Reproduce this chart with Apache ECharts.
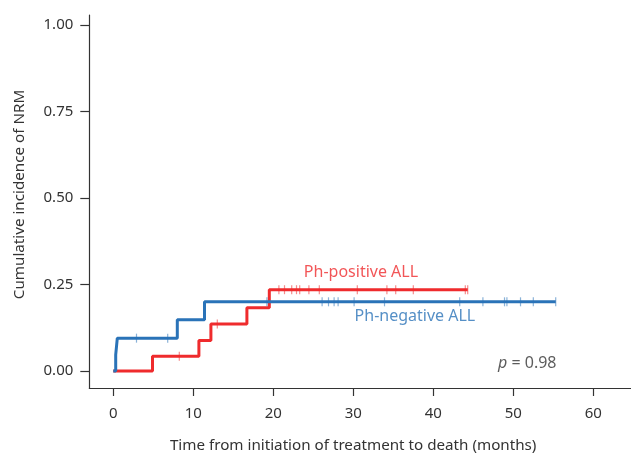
<!DOCTYPE html>
<html>
<head>
<meta charset="utf-8">
<script src="https://cdn.jsdelivr.net/npm/echarts@6/dist/echarts.min.js"></script>
<style>
  html, body { margin: 0; padding: 0; background: #fff; }
  #chart { width: 631px; height: 458px; }
</style>
</head>
<body>
<div id="chart"></div>
<script>
// Cumulative incidence of non-relapse mortality (NRM) by Ph status
const xTicks = [0, 10, 20, 30, 40, 50, 60];
const yTicks = [0, 0.25, 0.5, 0.75, 1.0];

// Step curve event points: [months, cumulative incidence]
const phNegTimes = [0, 0.3, 0.5, 8.0, 11.4, 55.3];
const phNegValues = [0, 0.047, 0.095, 0.148, 0.2, 0.2];
const phPosTimes = [0, 4.9, 10.7, 12.2, 16.7, 19.5, 44.3];
const phPosValues = [0, 0.043, 0.088, 0.136, 0.183, 0.235, 0.235];

// Censoring times
const phNegCensored = [2.9, 6.8, 19.2, 26.1, 26.9, 27.6, 28.1, 30.1, 33.9, 43.3, 46.2, 48.9, 49.2, 50.9, 52.5, 55.3];
const phPosCensored = [8.25, 13.0, 20.7, 21.4, 22.3, 22.9, 23.3, 24.45, 25.75, 30.5, 34.2, 35.3, 37.5, 44.0, 44.3];

const seriesNames = ['Ph-negative ALL', 'Ph-positive ALL'];
const pValueText = '0.98';

const BLUE = '#2a73b8';
const RED = '#ef2b2d';
const FONT = 'Noto Sans';
const TEXT = '#333333';

// value of the step curve at time t
function stepValue(times, values, t) {
  let v = values[0];
  for (let i = 0; i < times.length; i++) {
    if (times[i] <= t) v = values[i];
  }
  return v;
}

const negLine = phNegTimes.map((t, i) => [t, phNegValues[i]]);
const posLine = phPosTimes.map((t, i) => [t, phPosValues[i]]);
const negCens = phNegCensored.map(t => [t, stepValue(phNegTimes, phNegValues, t)]);
const posCens = phPosCensored.map(t => [t, stepValue(phPosTimes, phPosValues, t)]);

const chart = echarts.init(document.getElementById('chart'), null, { renderer: 'canvas' });

const axisLineStyle = { color: '#333', width: 1.2 };

chart.setOption({
  animation: false,
  backgroundColor: '#fff',
  textStyle: { fontFamily: FONT },
  grid: { left: 89.3, right: 0, top: 15, bottom: 68.7, containLabel: false },
  xAxis: {
    type: 'value',
    min: -3.0,
    max: 64.71,
    name: 'Time from initiation of treatment to death (months)',
    nameLocation: 'middle',
    nameGap: 50,
    nameTextStyle: { fontFamily: FONT, fontSize: 15.2, color: TEXT, padding: [0, 14, 0, 0] },
    splitLine: { show: false },
    axisLine: { show: true, onZero: false, lineStyle: axisLineStyle },
    axisTick: { show: true, length: 8, inside: false, customValues: xTicks, lineStyle: axisLineStyle },
    axisLabel: { customValues: xTicks, margin: 18, fontFamily: FONT, fontSize: 15, color: TEXT }
  },
  yAxis: {
    type: 'value',
    min: -0.049,
    max: 1.0287,
    name: 'Cumulative incidence of NRM',
    nameLocation: 'middle',
    nameGap: 62,
    nameRotate: 90,
    nameTextStyle: { fontFamily: FONT, fontSize: 15.2, color: TEXT, padding: [0, 0, 0, 14] },
    splitLine: { show: false },
    axisLine: { show: true, onZero: false, lineStyle: axisLineStyle },
    axisTick: { show: true, length: 9, inside: false, customValues: yTicks, lineStyle: axisLineStyle },
    axisLabel: {
      customValues: yTicks, margin: 16, fontFamily: FONT, fontSize: 15, color: TEXT,
      formatter: v => v.toFixed(2)
    }
  },
  series: [
    {
      name: seriesNames[1], type: 'line', step: 'end', data: posLine,
      showSymbol: false, lineStyle: { color: RED, width: 3 }, z: 3
    },
    {
      name: seriesNames[0], type: 'line', step: 'end', data: negLine,
      showSymbol: false, lineStyle: { color: BLUE, width: 3 }, z: 4
    },
    {
      type: 'scatter', data: posCens, symbol: 'rect', symbolSize: [1.2, 9],
      itemStyle: { color: RED, opacity: 0.55 }, z: 5, silent: true
    },
    {
      type: 'scatter', data: negCens, symbol: 'rect', symbolSize: [1.2, 9],
      itemStyle: { color: BLUE, opacity: 0.55 }, z: 5, silent: true
    },
    {
      // curve labels and p-value
      type: 'scatter', symbolSize: 0, silent: true, z: 6,
      data: [
        { value: [30.96, 0.286], label: { show: true, formatter: seriesNames[1], color: RED, position: 'inside', fontSize: 16, fontFamily: FONT } },
        { value: [37.7, 0.159], label: { show: true, formatter: seriesNames[0], color: BLUE, position: 'inside', fontSize: 16, fontFamily: FONT } },
        { value: [55.4, 0.021], label: {
            show: true, position: 'left', distance: 0, fontSize: 16, fontFamily: FONT, color: TEXT,
            formatter: '{i|p} = ' + pValueText,
            rich: { i: { fontStyle: 'italic', fontSize: 16, fontFamily: FONT, color: TEXT } }
        } }
      ]
    }
  ]
});
</script>
</body>
</html>
